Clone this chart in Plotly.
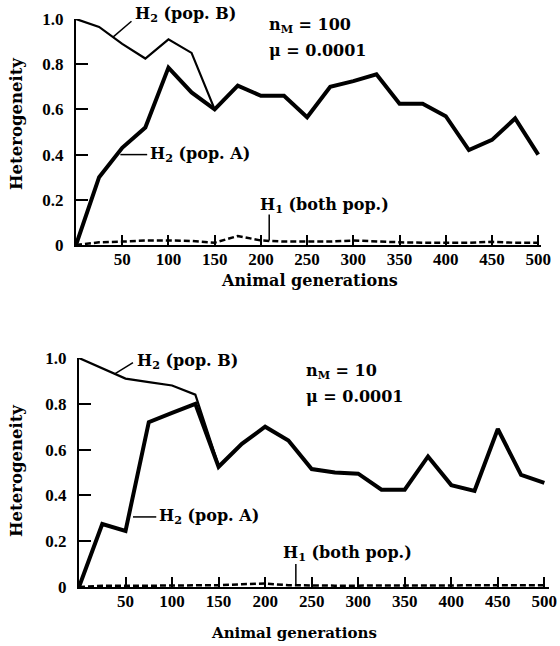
import plotly.graph_objects as go

gens = [0, 25, 50, 75, 100, 125, 150, 175, 200, 225, 250, 275, 300, 325, 350, 375, 400, 425, 450, 475, 500]
gens_b = [0, 25, 50, 75, 100, 125, 150]

# Top panel (n_M = 100)
top_popA = [0.0, 0.30, 0.43, 0.52, 0.785, 0.675, 0.60, 0.705, 0.66, 0.66, 0.565, 0.70, 0.725, 0.755, 0.625, 0.625, 0.57, 0.42, 0.465, 0.56, 0.40]
top_popB = [1.0, 0.965, 0.89, 0.825, 0.91, 0.85, 0.60]
top_H1 = [0.0, 0.012, 0.015, 0.02, 0.02, 0.018, 0.01, 0.04, 0.02, 0.015, 0.015, 0.015, 0.02, 0.015, 0.012, 0.01, 0.01, 0.01, 0.014, 0.01, 0.01]

# Bottom panel (n_M = 10)
bot_popA = [0.0, 0.275, 0.245, 0.72, 0.76, 0.80, 0.525, 0.625, 0.70, 0.64, 0.515, 0.50, 0.495, 0.425, 0.425, 0.57, 0.445, 0.42, 0.69, 0.49, 0.455]
bot_popB = [1.0, 0.955, 0.91, 0.895, 0.88, 0.84, 0.53]
bot_H1 = [0.0, 0.005, 0.005, 0.006, 0.006, 0.006, 0.008, 0.012, 0.015, 0.008, 0.006, 0.006, 0.006, 0.006, 0.006, 0.006, 0.008, 0.008, 0.008, 0.008, 0.008]

xticks = [50, 100, 150, 200, 250, 300, 350, 400, 450, 500]
yticks = [0, 0.2, 0.4, 0.6, 0.8, 1.0]
ytick_labels = ["0", "0.2", "0.4", "0.6", "0.8", "1.0"]

FONT = "DejaVu Serif"
TICKFONT = "Liberation Serif"
W, H = 560, 646

fig = go.Figure()

def add_panel(xa, ya, popA, popB, h1):
    fig.add_trace(go.Scatter(x=gens, y=h1, mode="lines", xaxis=xa, yaxis=ya,
                             line=dict(color="black", width=2.5, dash="6px,3px"), cliponaxis=False))
    fig.add_trace(go.Scatter(x=gens_b, y=popB, mode="lines", xaxis=xa, yaxis=ya,
                             line=dict(color="black", width=2.2), cliponaxis=False))
    fig.add_trace(go.Scatter(x=gens, y=popA, mode="lines", xaxis=xa, yaxis=ya,
                             line=dict(color="black", width=4), cliponaxis=False))

add_panel("x", "y", top_popA, top_popB, top_H1)
add_panel("x2", "y2", bot_popA, bot_popB, bot_H1)

def px_x(p):
    return p / W

def px_y(p):
    return 1 - p / H

axis_common = dict(showgrid=False, zeroline=False, showline=True, linecolor="black", linewidth=2,
                   ticks="inside", tickcolor="black", tickwidth=1.5, automargin=False,
                   tickfont=dict(family=TICKFONT, size=17, color="black", weight="bold"))

fig.update_layout(
    width=W, height=H, margin=dict(l=0, r=0, t=0, b=0, autoexpand=False),
    paper_bgcolor="white", plot_bgcolor="white", showlegend=False,
    font=dict(family=FONT, color="black"),
    xaxis=dict(domain=[px_x(76), px_x(541)], range=[0, 503], tickvals=xticks, ticklen=10,
               anchor="y", ticklabelstandoff=-2, **axis_common),
    yaxis=dict(domain=[px_y(245), px_y(19)], range=[0, 1.0], tickvals=yticks, ticktext=ytick_labels,
               ticklen=12, anchor="x", ticklabelstandoff=7, **axis_common),
    xaxis2=dict(domain=[px_x(79), px_x(549)], range=[0, 505], tickvals=xticks, ticklen=10,
                anchor="y2", ticklabelstandoff=-2, **axis_common),
    yaxis2=dict(domain=[px_y(587), px_y(358)], range=[0, 1.0], tickvals=yticks, ticktext=ytick_labels,
                ticklen=12, anchor="x2", ticklabelstandoff=7, **axis_common),
)

def label(xr, yr, x, y, text, size=16, yshift=0):
    fig.add_annotation(x=x, y=y, xref=xr, yref=yr, text=text, showarrow=False, yshift=yshift,
                       xanchor="left", yanchor="middle",
                       font=dict(family=FONT, size=size, color="black", weight="bold"))

def leader(xr, yr, x0, y0, x1, y1):
    fig.add_shape(type="line", xref=xr, yref=yr, x0=x0, y0=y0, x1=x1, y1=y1,
                  line=dict(color="black", width=1.5))

# Top annotations
label("x", "y", 62, 1.0, "H<sub>2</sub> (pop. B)", yshift=5)
leader("x", "y", 60, 0.99, 40, 0.92)
label("x", "y", 78, 0.40, "H<sub>2</sub> (pop. A)")
leader("x", "y", 48, 0.40, 77, 0.40)
label("x", "y", 197, 0.177, "H<sub>1</sub> (both pop.)")
leader("x", "y", 209, 0.135, 209, 0.02)
label("x", "y", 207, 0.973, "n<sub>M</sub> = 100")
label("x", "y", 207, 0.86, "μ = 0.0001")

# Bottom annotations
label("x2", "y2", 60, 0.985, "H<sub>2</sub> (pop. B)")
leader("x2", "y2", 58, 0.98, 38, 0.93)
label("x2", "y2", 84, 0.306, "H<sub>2</sub> (pop. A)")
leader("x2", "y2", 58, 0.306, 83, 0.306)
label("x2", "y2", 217, 0.148, "H<sub>1</sub> (both pop.)")
leader("x2", "y2", 233, 0.10, 233, 0.01)
label("x2", "y2", 242, 0.94, "n<sub>M</sub> = 10")
label("x2", "y2", 242, 0.83, "μ = 0.0001")

# Axis titles
for xp, yp, sz in [(309, 280, 16), (294, 633, 15)]:
    fig.add_annotation(x=px_x(xp), y=px_y(yp), xref="paper", yref="paper", text="Animal generations",
                       showarrow=False, font=dict(family=FONT, size=sz, color="black", weight="bold"),
                       xanchor="center", yanchor="middle")
for xp, yp in [(16, 124), (16, 471)]:
    fig.add_annotation(x=px_x(xp), y=px_y(yp), xref="paper", yref="paper", text="Heterogeneity",
                       showarrow=False, textangle=-90,
                       font=dict(family=FONT, size=16.5, color="black", weight="bold"),
                       xanchor="center", yanchor="middle")

fig.write_html("out.html", config={"displayModeBar": False},
               post_script="document.body.style.margin='0';")
